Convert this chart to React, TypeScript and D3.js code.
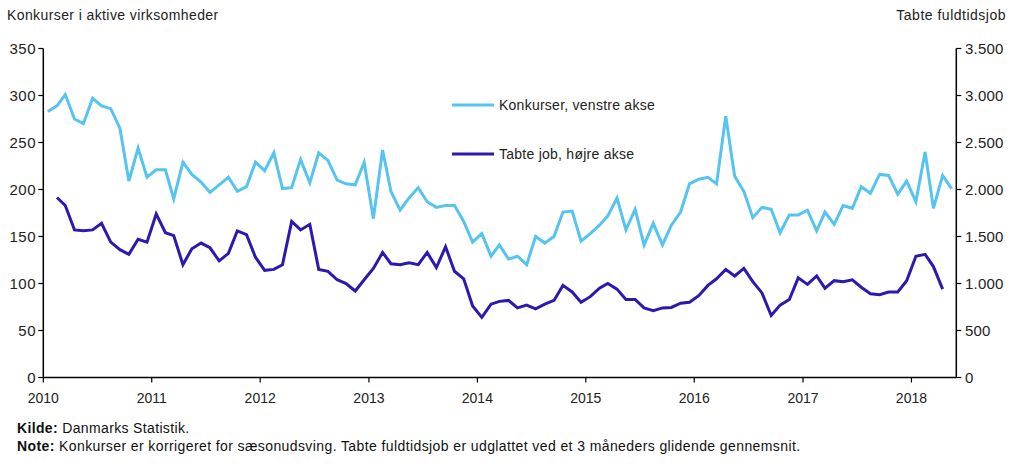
import React from "react";
import * as d3 from "d3";

// Monthly data, Jan 2010 – May 2018
const konkurser: number[] = [
  283, 289, 301, 275, 270, 297, 289, 286, 265, 209, 244, 213,
  221, 221, 190, 229, 216, 208, 197, 205, 213, 198, 203, 229,
  220, 239, 201, 202, 232, 207, 239, 231, 210, 206, 205, 229,
  169, 242, 198, 178, 191, 202, 187, 181, 183, 183, 166, 144,
  153, 129, 141, 126, 129, 120, 150, 143, 150, 176, 177, 145,
  153, 162, 172, 191, 157, 179, 141, 164, 141, 162, 176, 206,
  211, 213, 206, 278, 214, 198, 170, 181, 179, 154, 173, 173,
  178, 156, 176, 163, 183, 180, 203, 196, 216, 215, 195, 209,
  187, 240, 180, 215, 201,
];

// Lost full-time jobs, 3-month centred average, Feb 2010 – Apr 2018 (right axis)
const tabteJob: number[] = [
  1915, 1830, 1570, 1560, 1570, 1640, 1440, 1360, 1310, 1470, 1440,
  1740, 1540, 1510, 1200, 1370, 1430, 1380, 1240, 1320, 1560, 1520, 1280,
  1140, 1150, 1200, 1660, 1570, 1630, 1150, 1130, 1040, 1000, 920, 1040,
  1160, 1330, 1210, 1200, 1220, 1200, 1330, 1170, 1390, 1130, 1050, 760,
  640, 780, 810, 820, 740, 770, 730, 780, 820, 980, 910, 800,
  860, 950, 1000, 940, 830, 830, 740, 710, 740, 745, 790, 800,
  870, 980, 1050, 1150, 1080, 1160, 1020, 900, 660, 770, 830, 1060,
  990, 1080, 950, 1030, 1020, 1040, 960, 890, 880, 910, 910, 1030,
  1290, 1310, 1180, 940,
];

const leftTicks = [0, 50, 100, 150, 200, 250, 300, 350];
const rightTicks = [0, 500, 1000, 1500, 2000, 2500, 3000, 3500];
const yearTicks = [2010, 2011, 2012, 2013, 2014, 2015, 2016, 2017, 2018];

const seriesNames = ["Konkurser, venstre akse", "Tabte job, højre akse"];
const leftTitle = "Konkurser i aktive virksomheder";
const rightTitle = "Tabte fuldtidsjob";
const kilde = "Danmarks Statistik.";
const note =
  "Konkurser er korrigeret for sæsonudsving. Tabte fuldtidsjob er udglattet ved et 3 måneders glidende gennemsnit.";

const W = 1013;
const H = 470;
const LIGHT = "#55C4F0";
const DARK = "#2C19AE";
const FONT = "'Liberation Sans', Arial, sans-serif";

export default function App() {
  const left = 43.3;
  const right = 956.3;
  const top = 48.5;
  const bottom = 377.5;

  const x = d3
    .scaleTime()
    .domain([new Date(2010, 0, 1), new Date(2018, 5, 1)])
    .range([left, right]);
  const yL = d3.scaleLinear().domain([0, 350]).range([bottom, top]);
  const yR = d3.scaleLinear().domain([0, 3500]).range([bottom, top]);

  const midMonth = (i: number) => new Date(2010, i, 16);

  const lightLine = d3
    .line<number>()
    .x((_, i) => x(midMonth(i)))
    .y((d) => yL(d));
  const darkLine = d3
    .line<number>()
    .x((_, i) => x(midMonth(i + 1)))
    .y((d) => yR(d));

  const fmt = (v: number) => d3.format(",")(v).replace(/,/g, ".");

  return (
    <div style={{ position: "fixed", left: 0, top: 0, width: W, height: H, background: "#fff" }}>
      <svg width={W} height={H} style={{ display: "block", fontFamily: FONT }}>
        <rect width={W} height={H} fill="#fff" />
        {/* titles */}
        <text x={7} y={20} fontSize={14} fill="#222" letterSpacing={0.4}>
          {leftTitle}
        </text>
        <text x={1006} y={20} fontSize={14} fill="#222" textAnchor="end" letterSpacing={0.5}>
          {rightTitle}
        </text>

        {/* lines */}
        <path d={lightLine(konkurser) || ""} fill="none" stroke={LIGHT} strokeWidth={3} strokeLinejoin="miter" />
        <path d={darkLine(tabteJob) || ""} fill="none" stroke={DARK} strokeWidth={3} strokeLinejoin="miter" />

        {/* left axis */}
        <line x1={left} x2={left} y1={top} y2={bottom} stroke="#000" strokeWidth={1.5} />
        {leftTicks.map((t) => (
          <g key={"l" + t}>
            <line x1={left - 5} x2={left} y1={yL(t)} y2={yL(t)} stroke="#000" strokeWidth={1.2} />
            <text x={36} y={yL(t) + 5} fontSize={15} textAnchor="end" fill="#222" letterSpacing={0.5}>
              {t}
            </text>
          </g>
        ))}

        {/* right axis */}
        <line x1={right} x2={right} y1={top} y2={bottom} stroke="#000" strokeWidth={1.5} />
        {rightTicks.map((t) => (
          <g key={"r" + t}>
            <line x1={right} x2={right + 5} y1={yR(t)} y2={yR(t)} stroke="#000" strokeWidth={1.2} />
            <text x={965} y={yR(t) + 5} fontSize={15} fill="#222" letterSpacing={0.2}>
              {fmt(t)}
            </text>
          </g>
        ))}

        {/* x axis */}
        <line x1={left} x2={right} y1={bottom} y2={bottom} stroke="#000" strokeWidth={1.5} />
        {yearTicks.map((yr) => {
          const px = x(new Date(yr, 0, 1));
          return (
            <g key={"x" + yr}>
              <line x1={px} x2={px} y1={bottom} y2={bottom + 5} stroke="#000" strokeWidth={1.2} />
              <text x={px} y={403} fontSize={14} textAnchor="middle" fill="#222">
                {yr}
              </text>
            </g>
          );
        })}

        {/* legend */}
        <line x1={452} x2={494} y1={105} y2={105} stroke={LIGHT} strokeWidth={3} />
        <text x={499} y={110} fontSize={14} fill="#222" letterSpacing={0.25}>
          {seriesNames[0]}
        </text>
        <line x1={452} x2={494} y1={154} y2={154} stroke={DARK} strokeWidth={3} />
        <text x={499} y={159} fontSize={14} fill="#222" letterSpacing={0.25}>
          {seriesNames[1]}
        </text>

        {/* source and note */}
        <text x={17} y={433} fontSize={14} fill="#111" letterSpacing={0.35}>
          <tspan fontWeight="bold">Kilde:</tspan> {kilde}
        </text>
        <text x={17} y={451} fontSize={14} fill="#111" letterSpacing={0.4}>
          <tspan fontWeight="bold">Note:</tspan> {note}
        </text>
      </svg>
    </div>
  );
}
